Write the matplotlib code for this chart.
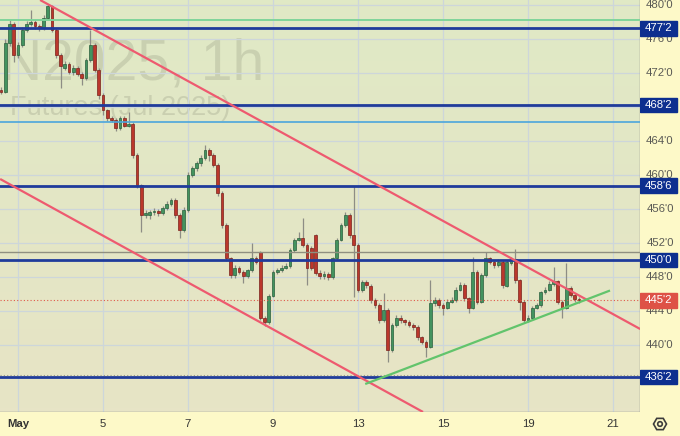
import numpy as np
import matplotlib
matplotlib.use("Agg")
import matplotlib.pyplot as plt
from matplotlib.colors import LinearSegmentedColormap
from matplotlib.patches import Rectangle, RegularPolygon, Circle

plt.rcParams["font.family"] = ["Liberation Sans", "DejaVu Sans"]

# hourly candles, trading-day axis (May 1 = 0), one bar every 0.1 day
FIRST_BAR = -0.4
BAR_STEP = 0.1
O = [470.0, 469.8, 475.5, 477.8, 474.1, 475.3, 477.1, 477.8, 478.0, 477.5,
     477.3, 478.5, 479.9, 477.1, 474.1, 472.6, 473.1, 472.1, 472.6, 471.9,
     471.4, 473.5, 475.3, 472.4, 469.4, 467.6, 466.7, 466.5, 465.5, 466.7,
     465.8, 466.0, 462.4, 458.8, 455.3, 455.3, 455.6, 455.8, 455.5, 456.1,
     456.6, 457.1, 455.3, 453.5, 455.9, 460.0, 460.8, 461.4, 462.0, 462.9,
     462.4, 461.2, 457.9, 454.1, 450.2, 448.2, 449.1, 448.6, 448.1, 448.8,
     450.2, 450.9, 443.2, 442.7, 445.8, 448.6, 448.8, 449.1, 449.3, 451.2,
     452.4, 452.6, 451.8, 451.4, 452.9, 448.5, 448.1, 448.4, 448.0, 450.2,
     452.4, 454.1, 455.3, 452.9, 451.8, 446.5, 447.4, 447.0, 445.3, 444.7,
     442.9, 444.1, 439.4, 442.4, 443.2, 442.9, 442.7, 442.4, 442.1, 440.9,
     440.4, 439.8, 444.9, 445.3, 444.7, 444.4, 445.1, 445.3, 446.5, 447.1,
     445.5, 444.4, 448.6, 445.1, 448.2, 450.2, 449.8, 449.4, 449.8, 447.0,
     449.6, 450.1, 447.6, 445.1, 442.9, 443.2, 444.4, 444.7, 446.2, 446.5,
     447.2, 447.5, 445.1, 444.4, 446.7, 445.9, 445.4]
H = [470.3, 476.0, 478.2, 478.0, 475.6, 477.4, 478.1, 479.4, 478.3, 477.8,
     478.8, 480.1, 480.0, 477.3, 474.3, 473.4, 473.3, 472.9, 472.8, 472.1,
     473.8, 477.1, 475.5, 472.6, 469.6, 467.8, 466.9, 466.7, 466.9, 466.9,
     467.4, 466.2, 462.6, 459.0, 455.9, 455.9, 456.1, 456.0, 456.4, 456.9,
     457.3, 457.3, 455.5, 456.2, 460.3, 461.1, 461.7, 462.3, 463.5, 463.2,
     462.6, 461.4, 458.1, 454.3, 450.4, 449.4, 449.3, 448.8, 449.0, 452.0,
     450.5, 451.1, 443.4, 446.0, 448.8, 449.1, 449.4, 449.6, 451.4, 452.6,
     453.3, 454.9, 452.0, 451.6, 453.1, 448.8, 448.7, 448.6, 450.4, 452.6,
     454.3, 455.6, 455.5, 458.7, 452.0, 447.6, 447.6, 447.2, 445.5, 444.9,
     446.1, 444.3, 442.6, 443.5, 443.5, 443.1, 442.9, 442.6, 442.3, 441.1,
     440.6, 447.6, 445.6, 445.5, 444.9, 445.4, 445.6, 446.8, 447.4, 447.3,
     445.7, 450.4, 448.8, 448.5, 450.9, 450.4, 450.0, 450.1, 450.0, 450.0,
     450.4, 451.3, 447.8, 445.3, 443.5, 444.6, 445.0, 446.4, 446.8, 447.5,
     449.2, 447.7, 445.3, 449.6, 446.9, 446.1, 445.6]
L = [469.5, 469.6, 475.2, 473.3, 473.8, 475.0, 476.8, 477.5, 477.2, 476.9,
     477.0, 478.3, 476.8, 473.8, 470.2, 472.3, 471.9, 471.8, 471.6, 470.6,
     471.2, 473.3, 472.1, 469.0, 467.1, 466.4, 466.2, 465.2, 465.3, 465.6,
     465.6, 462.0, 458.5, 453.3, 455.0, 454.8, 455.3, 455.2, 455.3, 455.9,
     456.4, 455.0, 452.6, 453.3, 455.7, 459.8, 460.5, 461.1, 461.8, 461.6,
     460.9, 457.5, 453.8, 449.9, 447.9, 447.9, 448.3, 447.3, 447.9, 448.6,
     449.5, 442.9, 442.2, 442.5, 445.6, 448.3, 448.6, 448.9, 449.1, 451.0,
     452.2, 451.5, 447.1, 448.8, 448.2, 447.8, 447.8, 447.7, 447.8, 450.0,
     452.2, 453.9, 452.6, 445.6, 446.2, 446.2, 446.7, 445.0, 444.4, 442.6,
     442.7, 438.0, 439.2, 442.1, 442.6, 442.4, 442.1, 441.8, 440.6, 440.1,
     438.6, 439.6, 444.6, 444.4, 443.5, 444.2, 444.9, 445.1, 446.3, 445.2,
     443.8, 444.2, 444.8, 444.9, 448.0, 449.5, 449.1, 449.2, 446.7, 446.8,
     449.4, 447.3, 444.1, 442.6, 442.7, 443.0, 444.2, 444.5, 446.0, 446.3,
     447.0, 444.8, 443.2, 444.2, 445.6, 445.1, 445.0]
C = [469.8, 475.5, 477.8, 474.1, 475.3, 477.1, 477.8, 478.0, 477.5, 477.3,
     478.5, 479.9, 477.1, 474.1, 472.8, 473.1, 472.1, 472.6, 471.9, 471.4,
     473.5, 475.3, 472.4, 469.4, 467.6, 466.7, 466.5, 465.5, 466.7, 465.8,
     466.0, 462.4, 458.8, 455.3, 455.5, 455.6, 455.8, 455.5, 456.1, 456.6,
     457.1, 455.3, 453.5, 455.9, 460.0, 460.8, 461.4, 462.0, 462.9, 462.4,
     461.2, 457.9, 454.1, 450.2, 448.2, 449.1, 448.6, 448.1, 448.8, 450.2,
     449.8, 443.2, 442.7, 445.8, 448.6, 448.8, 449.1, 449.3, 451.2, 452.4,
     452.6, 451.8, 449.1, 449.1, 448.5, 448.1, 448.4, 448.0, 450.2, 452.4,
     454.1, 455.3, 452.9, 451.8, 446.5, 447.4, 447.0, 445.3, 444.7, 442.9,
     444.1, 439.4, 442.4, 443.2, 442.9, 442.7, 442.4, 442.1, 440.9, 440.4,
     439.8, 444.9, 445.3, 444.7, 444.4, 445.1, 445.3, 446.5, 447.1, 445.5,
     444.4, 448.6, 445.1, 448.2, 450.2, 449.8, 449.4, 449.8, 447.0, 449.8,
     450.1, 447.6, 445.1, 442.9, 443.2, 444.4, 444.7, 446.2, 446.5, 447.2,
     447.5, 445.1, 444.4, 446.7, 445.9, 445.4, 445.3]

day_ticks = [0, 2, 4, 6, 8, 10, 12, 14]
day_labels = ["May", "5", "7", "9", "13", "15", "19", "21"]
price_ticks = [440, 444, 448, 452, 456, 460, 464, 468, 472, 476, 480]
# tick labels that the level boxes cover completely
hidden_ticks = [468]

levels = [477.25, 468.25, 458.75, 450.0, 436.25]
last_price = 445.25
green_level = 478.2
blue_level = 466.25
gray_level = 451.0
dotted_level = 436.5

# channel and trend lines: (t0, p0, t1, p1)
upper_red = (0.52, 480.59, 14.64, 441.88)
lower_red = (-0.42, 459.53, 9.53, 432.12)
green_trend = (8.17, 435.41, 13.93, 446.41)


def fmt(p):
    return "%d'%d" % (int(p), int(round((p % 1) * 8)))


W, Hh = 680, 436
fig = plt.figure(figsize=(6.8, 4.36), dpi=100)
ax = fig.add_axes([0, 24 / Hh, 640 / W, 412 / Hh])

bg = LinearSegmentedColormap.from_list("bg", ["#e7e4c6", "#e0e9c5"])
ax.imshow(np.linspace(0, 1, 100).reshape(-1, 1)[::-1], cmap=bg, aspect="auto",
          extent=[0, 1, 0, 1], transform=ax.transAxes, zorder=0)

xlim = (-18 / 42.5, 622 / 42.5)
ylim = (480 - 407 / 8.5, 480 + 5 / 8.5)

ax.set_xticks(day_ticks)
ax.set_yticks(price_ticks)
ax.grid(color="#cdd6da", lw=0.9, zorder=1)
ax.tick_params(length=0, labelbottom=False, labelleft=False)
for s in ["top", "left"]:
    ax.spines[s].set_visible(False)
for s in ["right", "bottom"]:
    ax.spines[s].set_color("#8f8f86")
    ax.spines[s].set_linewidth(1.0)

# watermark
ax.text(-0.40, 471.2, "N2025, 1h", ha="left", va="baseline", fontsize=41,
        color="black", alpha=0.1, zorder=1)
ax.text(-0.19, 467.1, "Futures (Jul 2025)", ha="left", va="baseline",
        fontsize=19.5, color="black", alpha=0.1, zorder=1)

# candles
O_, H_, L_, C_ = map(np.array, (O, H, L, C))
t = FIRST_BAR + BAR_STEP * np.arange(len(C_))
up = C_ >= O_
ax.vlines(t, L_, H_, color="#8d8d85", lw=0.9, zorder=2)
ax.bar(t[up], (C_ - O_)[up], bottom=O_[up], width=0.065, color="#43935f",
       edgecolor="#2b5f3d", lw=0.5, zorder=3)
ax.bar(t[~up], (C_ - O_)[~up], bottom=O_[~up], width=0.065, color="#bb372c",
       edgecolor="#7a231c", lw=0.5, zorder=3)

# drawings
for lv in levels:
    ax.axhline(lv, color="#1f3b9b", lw=2.0, zorder=4)
ax.axhline(green_level, color="#7fd49a", lw=1.4, zorder=4)
ax.axhline(blue_level, color="#4ba6dc", lw=1.2, zorder=4)
ax.axhline(gray_level, color="#8f8f80", lw=1.0, zorder=4)
ax.axhline(dotted_level, color="#9a9a88", lw=0.8, ls=(0, (1, 2)), zorder=4)
ax.axhline(last_price, color="#e0584a", lw=0.8, ls=(0, (1, 2)), zorder=4)
for (t0, p0, t1, p1), col in [(upper_red, "#ee5a6f"), (lower_red, "#ee5a6f"),
                               (green_trend, "#62c46c")]:
    ax.plot([t0, t1], [p0, p1], color=col, lw=1.6, zorder=5,
            solid_capstyle="butt")

ax.set_xlim(xlim)
ax.set_ylim(ylim)

# price scale
axr = fig.add_axes([640 / W, 24 / Hh, 40 / W, 412 / Hh], facecolor="#fdf9c8")
axr.set_xlim(0, 1)
axr.set_ylim(ylim)
axr.set_xticks([]); axr.set_yticks([])
for s in axr.spines.values():
    s.set_visible(False)
for p in price_ticks:
    if p in hidden_ticks:
        continue
    axr.text(0.5, p, fmt(p), ha="center", va="center", fontsize=8.2,
             color="#5a5a55")
for lv in levels:
    axr.add_patch(Rectangle((0.0, lv - 0.85), 0.92, 1.7, color="#0d2f8f",
                            zorder=3))
    axr.text(0.46, lv, fmt(lv), ha="center", va="center", fontsize=8.2,
             color="white", zorder=4)
axr.add_patch(Rectangle((0.0, last_price - 0.85), 0.92, 1.7, color="#de5246",
                        zorder=3))
axr.text(0.46, last_price, fmt(last_price), ha="center", va="center",
         fontsize=8.2, color="white", zorder=4)

# time scale
axb = fig.add_axes([0, 0, 640 / W, 24 / Hh], facecolor="#fdf9c8")
axb.set_xlim(xlim)
axb.set_ylim(0, 1)
axb.set_xticks([]); axb.set_yticks([])
for s in axb.spines.values():
    s.set_visible(False)
for d, lab in zip(day_ticks, day_labels):
    axb.text(d, 0.48, lab, ha="center", va="center", fontsize=8.2,
             color="#333333", fontweight="bold" if lab == "May" else "normal")

# corner with settings icon
axc = fig.add_axes([640 / W, 0, 40 / W, 24 / Hh], facecolor="#fdf9c8")
axc.set_xlim(0, 40)
axc.set_ylim(0, 24)
axc.set_xticks([]); axc.set_yticks([])
for s in axc.spines.values():
    s.set_visible(False)
axc.add_patch(RegularPolygon((20, 12), 6, radius=6.5, orientation=np.pi / 6,
                             fill=False, ec="#3c3c3c", lw=1.2))
axc.add_patch(Circle((20, 12), 2.3, fill=False, ec="#3c3c3c", lw=1.2))

fig.savefig("out.png", dpi=100)
